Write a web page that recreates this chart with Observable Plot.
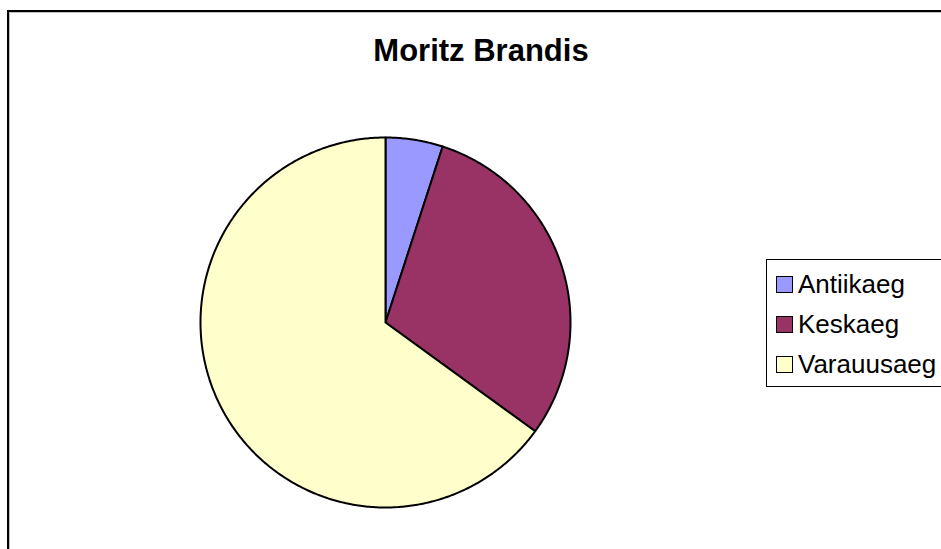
<!DOCTYPE html>
<html>
<head>
<meta charset="utf-8">
<script src="https://cdn.jsdelivr.net/npm/d3@7"></script>
<script src="https://cdn.jsdelivr.net/npm/@observablehq/plot@0.6"></script>
<style>
  html, body { margin: 0; padding: 0; background: #fff; overflow: hidden; }
  #wrap { position: relative; width: 941px; height: 549px; overflow: hidden; font-family: "Liberation Sans", Arial, sans-serif; }
  #frame { position: absolute; left: 7px; top: 10px; width: 2000px; height: 2000px;
           border-left: 2px solid #000; border-top: 2px solid #000; box-sizing: border-box; }
  #frame::after { content: ""; position: absolute; left: 0; top: 0; right: 0; bottom: 0;
           border-left: 1px solid #c0c0c0; border-top: 1px solid #c0c0c0; }
  #title { position: absolute; left: 0; width: 962px; top: 33px; text-align: center;
           font-weight: bold; font-size: 31px; line-height: 36px; color: #000; }
  #chart { position: absolute; left: 0; top: 0; }
  #legend { position: absolute; left: 766px; top: 259px; width: 400px; height: 128px;
            border: 1px solid #000; box-sizing: border-box; background: #fff; }
  .item { position: absolute; left: 9px; height: 30px; display: flex; align-items: center; }
  .sw { width: 15px; height: 15px; border: 1px solid #000; margin-right: 5px; }
  .lab { font-size: 26px; line-height: 30px; color: #000; }
</style>
</head>
<body>
<div id="wrap">
  <div id="frame"></div>
  <div id="chart"></div>
  <div id="title">Moritz Brandis</div>
  <div id="legend"></div>
</div>
<script>
const categories = ["Antiikaeg", "Keskaeg", "Varauusaeg"];
const values = [5, 30, 65];
const colors = ["#9999FF", "#993366", "#FFFFCC"];

const pie = d3.pie().sort(null).value(d => d.value)(
  categories.map((name, i) => ({name, value: values[i]}))
);

// Build slice outlines from the pie angles (geometry sampling of arcs)
const pts = [];
pie.forEach(s => {
  const name = s.data.name;
  pts.push({name, x: 0, y: 0});
  const n = Math.max(2, Math.ceil((s.endAngle - s.startAngle) / 0.01));
  for (let k = 0; k <= n; k++) {
    const a = s.startAngle + (s.endAngle - s.startAngle) * k / n;
    pts.push({name, x: Math.sin(a), y: Math.cos(a)});
  }
  pts.push({name, x: 0, y: 0});
});

const chart = Plot.plot({
  width: 941,
  height: 549,
  margin: 0,
  x: {domain: [-1, 1], range: [200, 570], axis: null},
  y: {domain: [-1, 1], range: [507, 137], axis: null},
  color: {domain: categories, range: colors},
  marks: [
    Plot.line(pts, {x: "x", y: "y", z: "name", fill: "name", stroke: "#000", strokeWidth: 2, strokeLinejoin: "round"})
  ]
});
document.getElementById("chart").appendChild(chart);

const legend = document.getElementById("legend");
const rowTops = [9, 49, 89];
categories.forEach((c, i) => {
  const it = document.createElement("div");
  it.className = "item";
  it.style.top = rowTops[i] + "px";
  const sw = document.createElement("div");
  sw.className = "sw";
  sw.style.background = colors[i];
  const lab = document.createElement("span");
  lab.className = "lab";
  lab.textContent = c;
  it.appendChild(sw); it.appendChild(lab);
  legend.appendChild(it);
});
</script>
</body>
</html>
